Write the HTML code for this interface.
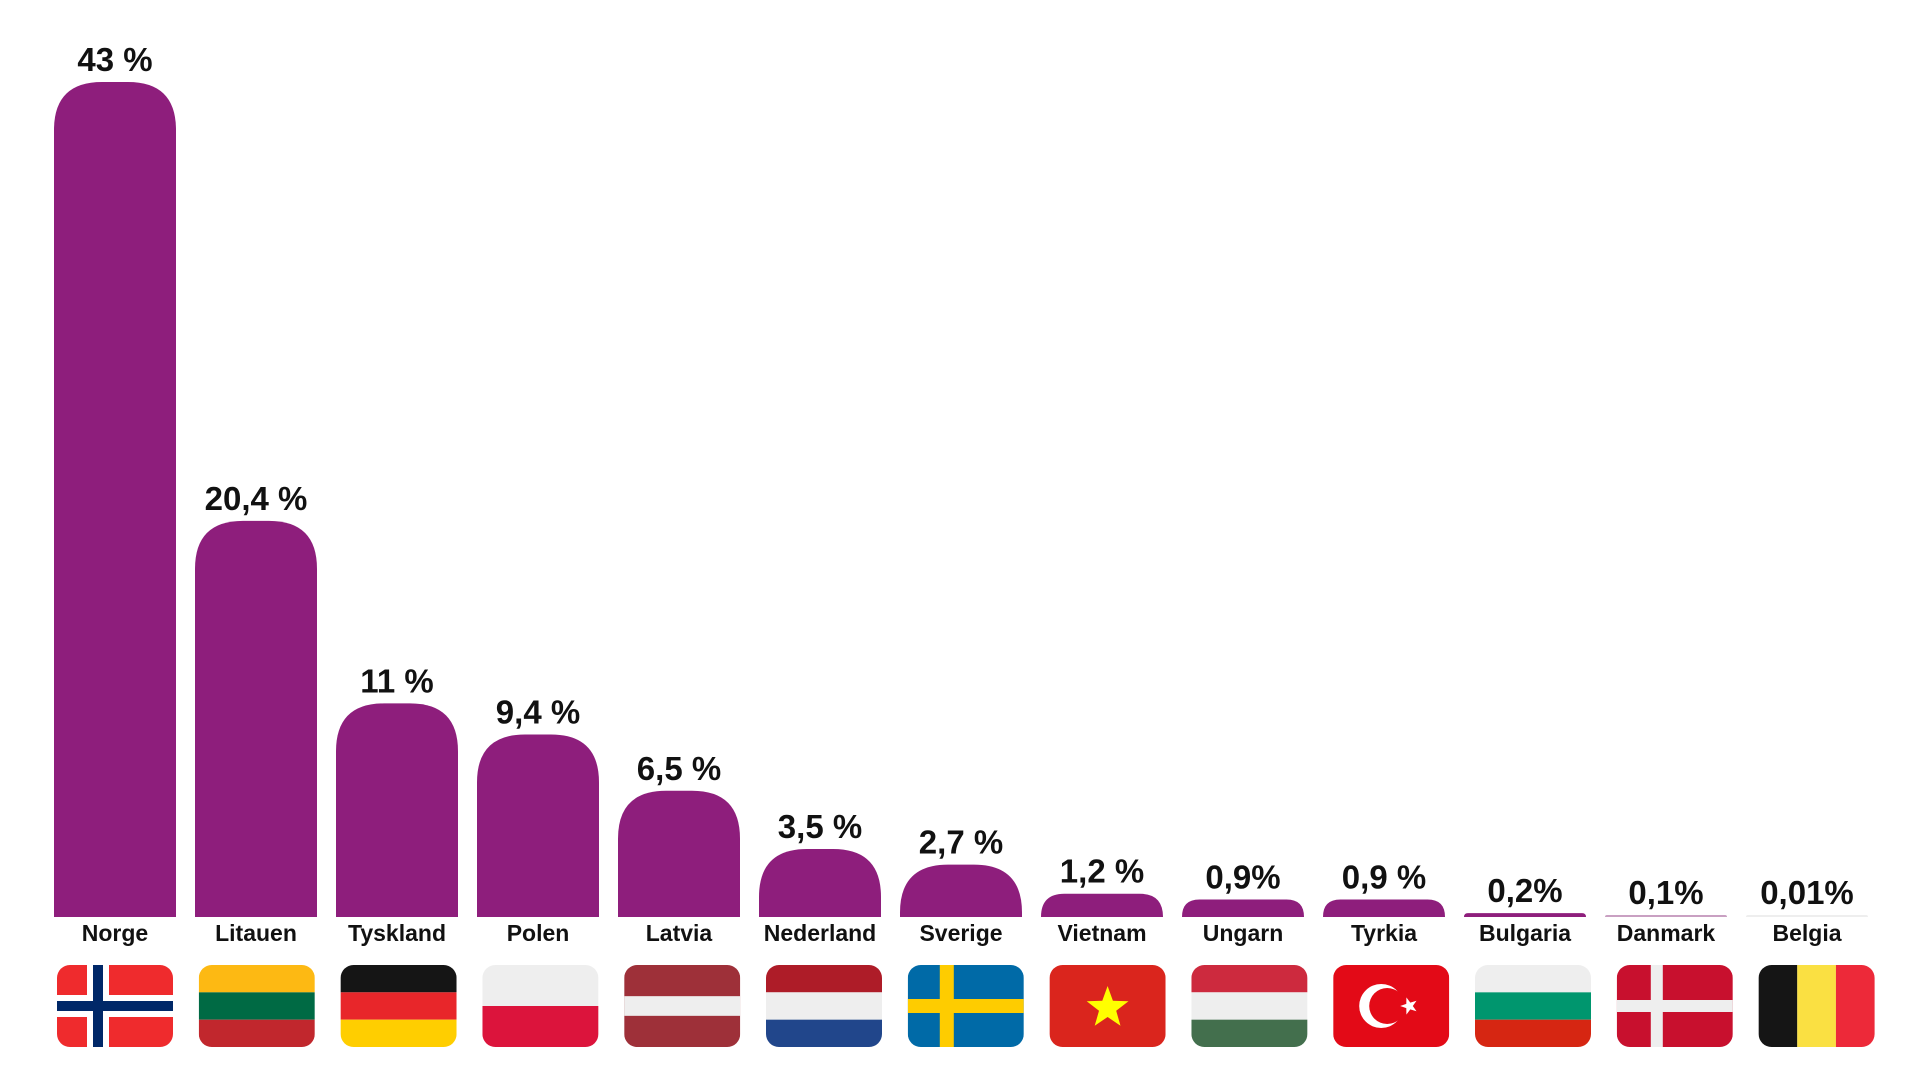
<!DOCTYPE html>
<html><head><meta charset="utf-8"><style>
html,body{margin:0;padding:0;background:#fff;}
svg{display:block;font-family:"Liberation Sans",sans-serif;}
</style></head><body>
<svg id="chart" width="1920" height="1080" viewBox="0 0 1920 1080">
<defs></defs>
<g id="bars"></g>
<g id="flags"></g>
</svg>
<script>
const categories = ["Norge","Litauen","Tyskland","Polen","Latvia","Nederland","Sverige","Vietnam","Ungarn","Tyrkia","Bulgaria","Danmark","Belgia"];
const values = [43, 20.4, 11, 9.4, 6.5, 3.5, 2.7, 1.2, 0.9, 0.9, 0.2, 0.1, 0.01];
const valueLabels = ["43 %","20,4 %","11 %","9,4 %","6,5 %","3,5 %","2,7 %","1,2 %","0,9%","0,9 %","0,2%","0,1%","0,01%"];
const flagCodes = ["no","lt","de","pl","lv","nl","se","vn","hu","tr","bg","dk","be"];

const NS = "http://www.w3.org/2000/svg";
const svg = document.getElementById('chart');
const gb = document.getElementById('bars');
const gf = document.getElementById('flags');
const baseY = 917, x0 = 54, step = 141, bw = 122, pxPer = 835/43;
function xPos(i){ return x0 + step*i; }
function yH(v){ return v*pxPer; }
function mk(tag, attrs, parent){ const e=document.createElementNS(NS,tag); for(const k in attrs) e.setAttribute(k,attrs[k]); parent.appendChild(e); return e; }

values.forEach((v,i)=>{
  const x = xPos(i);
  let h = Math.max(yH(v), 2);
  const r = Math.min(48, h);
  const top = baseY - h;
  let fill = "#8e1e7c";
  if (v < 0.15) fill = "#c9a0c2";
  if (v < 0.05) fill = "#eeeeee";
  const d = `M${x},${baseY} L${x},${top+r} Q${x},${top} ${x+r},${top} L${x+bw-r},${top} Q${x+bw},${top} ${x+bw},${top+r} L${x+bw},${baseY} Z`;
  const p = mk('path',{d:d,fill:fill},gb);
  
  
  const t = mk('text',{x:x+bw/2,y:top-11,'text-anchor':'middle','font-size':'33','font-weight':'bold','fill':'#111'},gb);
  t.textContent = valueLabels[i];
  
  
  const c = mk('text',{x:x+bw/2,y:941,'text-anchor':'middle','font-size':'23','font-weight':'bold','fill':'#111'},gb);
  c.textContent = categories[i];
  
  
});

const defs = svg.querySelector('defs');
const fw = 116, fh = 82, fy = 965;
flagCodes.forEach((code,i)=>{
  const fx = xPos(i) + bw/2 - fw/2 + i*0.8;
  const cp = mk('clipPath',{id:'cp'+i},defs);
  mk('rect',{x:fx,y:fy,width:fw,height:fh,rx:13},cp);
  const g = mk('g',{'clip-path':'url(#cp'+i+')'},gf);
  
  
  const R=(x,y,w,h,f)=>mk('rect',{x:fx+x,y:fy+y,width:w,height:h,fill:f},g);
  const h3 = fh/3;
  switch(code){
    case 'no': R(0,0,fw,fh,'#ef2b2d'); R(30,0,22,fh,'#fff'); R(0,30,fw,22,'#fff'); R(36,0,10,fh,'#002868'); R(0,36,fw,10,'#002868'); break;
    case 'lt': R(0,0,fw,h3,'#fdb913'); R(0,h3,fw,h3,'#006a44'); R(0,2*h3,fw,h3+1,'#c1272d'); break;
    case 'de': R(0,0,fw,h3,'#151515'); R(0,h3,fw,h3,'#e8262a'); R(0,2*h3,fw,h3+1,'#ffce00'); break;
    case 'pl': R(0,0,fw,fh/2,'#eeeeee'); R(0,fh/2,fw,fh/2,'#dc143c'); break;
    case 'lv': R(0,0,fw,fh,'#9e3039'); R(0,fh*0.38,fw,fh*0.24,'#eeeeee'); break;
    case 'nl': R(0,0,fw,h3,'#ae1c28'); R(0,h3,fw,h3,'#eeeeee'); R(0,2*h3,fw,h3+1,'#21468b'); break;
    case 'se': R(0,0,fw,fh,'#006aa7'); R(32,0,14,fh,'#fecc00'); R(0,34,fw,14,'#fecc00'); break;
    case 'vn': R(0,0,fw,fh,'#da251d'); {
      const cx=fx+fw/2, cy=fy+fh/2+2, ro=22, ri=9; let pts=[];
      for(let k=0;k<10;k++){const a=-Math.PI/2+k*Math.PI/5; const rr=k%2?ri:ro; pts.push((cx+rr*Math.cos(a)).toFixed(1)+','+(cy+rr*Math.sin(a)).toFixed(1));}
      mk('polygon',{points:pts.join(' '),fill:'#ffff00'},g);} break;
    case 'hu': R(0,0,fw,h3,'#cd2a3e'); R(0,h3,fw,h3,'#eeeeee'); R(0,2*h3,fw,h3+1,'#436f4d'); break;
    case 'tr': R(0,0,fw,fh,'#e30a17');
      mk('circle',{cx:fx+48,cy:fy+41,r:22,fill:'#fff'},g);
      mk('circle',{cx:fx+54,cy:fy+41,r:18,fill:'#e30a17'},g);
      { const cx=fx+76, cy=fy+41, ro=9, ri=3.6; let pts=[];
        for(let k=0;k<10;k++){const a=Math.PI+k*Math.PI/5; const rr=k%2?ri:ro; pts.push((cx+rr*Math.cos(a)).toFixed(1)+','+(cy+rr*Math.sin(a)).toFixed(1));}
        mk('polygon',{points:pts.join(' '),fill:'#fff'},g);} break;
    case 'bg': R(0,0,fw,h3,'#eeeeee'); R(0,h3,fw,h3,'#00966e'); R(0,2*h3,fw,h3+1,'#d62612'); break;
    case 'dk': R(0,0,fw,fh,'#c8102e'); R(34,0,12,fh,'#eeeeee'); R(0,35,fw,12,'#eeeeee'); break;
    case 'be': R(0,0,fw/3,fh,'#151515'); R(fw/3,0,fw/3,fh,'#fae042'); R(2*fw/3,0,fw/3+1,fh,'#ed2939'); break;
  }
});
</script>
</body></html>
